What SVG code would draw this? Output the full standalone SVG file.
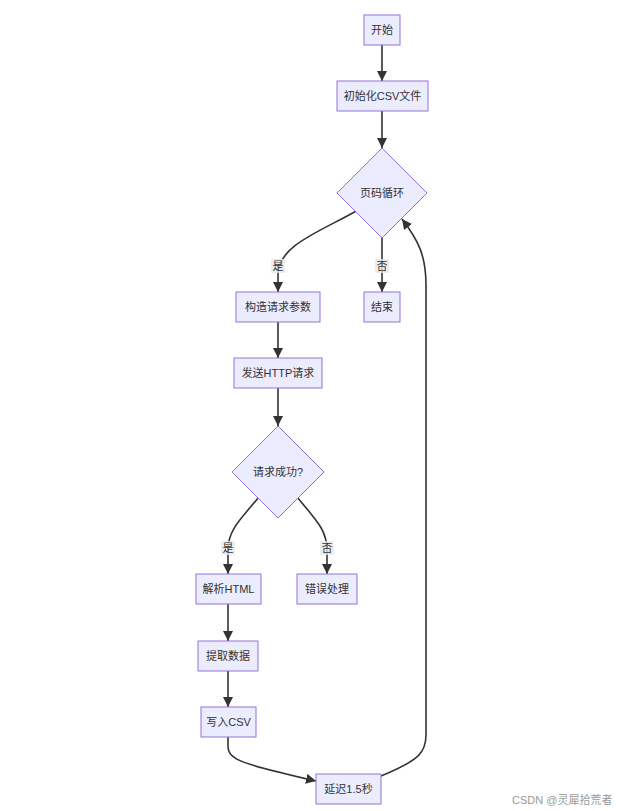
<svg xmlns="http://www.w3.org/2000/svg" width="619" height="811" viewBox="0 0 619 811">
<defs>
<style>
.n rect,.n polygon{fill:#ECECFF;stroke:#9370DB;stroke-width:1}
.t{font-family:"Liberation Sans","Noto Sans CJK SC",sans-serif;font-size:11px;fill:#333;text-anchor:middle;dominant-baseline:central}
.e{fill:none;stroke:#333;stroke-width:1.6}
.lb{fill:#e8e8e8;opacity:0.8}
.wm{font-family:"Liberation Sans","Noto Sans CJK SC",sans-serif;font-size:11px;fill:#999}
</style>
<marker id="ah" viewBox="0 0 10 10" refX="10" refY="5" markerWidth="10" markerHeight="10" markerUnits="userSpaceOnUse" orient="auto">
<path d="M0,0 L10,5 L0,10 z" fill="#333"/>
</marker>
</defs>
<rect width="619" height="811" fill="#fff"/>
<g id="edges">
<path class="e" d="M382,44 L382,81" marker-end="url(#ah)"/>
<path class="e" d="M382,111 L382,148" marker-end="url(#ah)"/>
<path class="e" d="M358,210 C320,232 278,245 278,275 L278,292" marker-end="url(#ah)"/>
<path class="e" d="M382,238 L382,292" marker-end="url(#ah)"/>
<path class="e" d="M278,322 L278,358" marker-end="url(#ah)"/>
<path class="e" d="M278,388 L278,426" marker-end="url(#ah)"/>
<path class="e" d="M259,497 C240,520 228,530 228,550 L228,574" marker-end="url(#ah)"/>
<path class="e" d="M297,497 C316,520 327,530 327,550 L327,574" marker-end="url(#ah)"/>
<path class="e" d="M228,603 L228,641" marker-end="url(#ah)"/>
<path class="e" d="M228,670 L228,707" marker-end="url(#ah)"/>
<path class="e" d="M228,737 L228,746 C228,760 242,764 316,781" marker-end="url(#ah)"/>
<path class="e" d="M381,776 C420,760 426,752 426,735 L426,285 C426,255 418,240 402,219" marker-end="url(#ah)"/>
<rect class="lb" x="271" y="259" width="14" height="14"/>
<text class="t" x="278" y="266">是</text>
<rect class="lb" x="375" y="259" width="14" height="14"/>
<text class="t" x="382" y="266">否</text>
<rect class="lb" x="221" y="541" width="14" height="14"/>
<text class="t" x="228" y="548">是</text>
<rect class="lb" x="320" y="541" width="14" height="14"/>
<text class="t" x="327" y="548">否</text>
</g>
<g id="start" class="n"><rect x="364" y="15" width="36" height="30"/><text class="t" x="382" y="30">开始</text></g>
<g id="init" class="n"><rect x="337" y="81" width="91" height="30"/><text class="t" x="382.5" y="96">初始化CSV文件</text></g>
<g id="loop" class="n"><polygon points="382,148 427,193 382,238 337,193"/><text class="t" x="382" y="193">页码循环</text></g>
<g id="build" class="n"><rect x="236" y="292" width="84" height="30"/><text class="t" x="278" y="307">构造请求参数</text></g>
<g id="end" class="n"><rect x="364" y="292" width="36" height="30"/><text class="t" x="382" y="307">结束</text></g>
<g id="send" class="n"><rect x="234" y="358" width="88" height="30"/><text class="t" x="278" y="373">发送HTTP请求</text></g>
<g id="ok" class="n"><polygon points="278,426 324,472 278,518 232,472"/><text class="t" x="278" y="472">请求成功?</text></g>
<g id="parse" class="n"><rect x="196" y="574" width="65" height="30"/><text class="t" x="228.5" y="589">解析HTML</text></g>
<g id="err" class="n"><rect x="297" y="574" width="60" height="30"/><text class="t" x="327" y="589">错误处理</text></g>
<g id="extract" class="n"><rect x="198" y="641" width="60" height="30"/><text class="t" x="228" y="656">提取数据</text></g>
<g id="write" class="n"><rect x="201" y="707" width="55" height="30"/><text class="t" x="228.5" y="722">写入CSV</text></g>
<g id="delay" class="n"><rect x="316" y="774" width="65" height="30"/><text class="t" x="348.5" y="789">延迟1.5秒</text></g>
<text class="wm" x="512" y="804">CSDN @灵犀拾荒者</text>
</svg>
